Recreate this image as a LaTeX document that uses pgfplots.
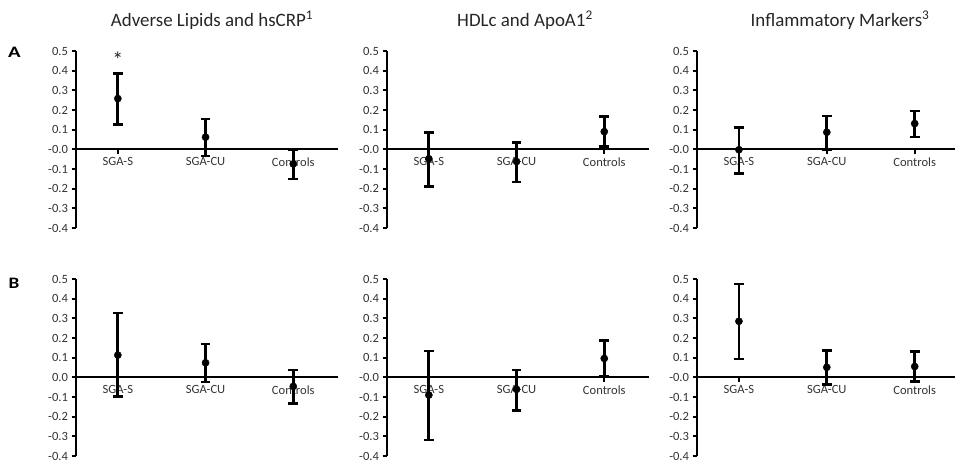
\documentclass[border=0pt]{standalone}
\usepackage{pgfplots}
\pgfplotsset{compat=1.18}
\usepackage{fontspec}
\setmainfont{Carlito}
\pgfplotsset{
  panel/.style={
    scale only axis, width=262bp, height=177bp,
    anchor=north west,
    xmin=0.523, xmax=3.51, ymin=-0.4, ymax=0.5,
    axis y line=left, axis x line=middle,
    axis line style={line width=2.3bp, -},
    every tick/.style={line width=1.8bp, black},
    major tick length=4.5bp,
    tick align=outside,
    xtick={1,2,3}, xticklabels={SGA-S,SGA-CU,Controls},
    ytick={-0.4,-0.3,-0.2,-0.1,0,0.1,0.2,0.3,0.4,0.5},
    yticklabels={-0.4,-0.3,-0.2,-0.1,-0.0,0.1,0.2,0.3,0.4,0.5},
    tick label style={font=\fontsize{12.6}{12.6}\selectfont, text=black!80},
    clip=false,
  },
  ci/.style={
    black, only marks, mark=*, mark size=3.6bp, mark options={fill=black, draw=black},
    error bars/.cd, y dir=both, y explicit,
    error bar style={line width=2.8bp, black},
    error mark options={rotate=90, mark size=4.8bp, line width=2.6bp, black},
  },
}
\begin{document}
\begin{tikzpicture}
\path[use as bounding box] (0bp,0bp) rectangle (955bp,-463bp);
% titles
\node[anchor=base, font=\fontsize{19}{19}\selectfont, text=black!85] at (212bp,-26bp) {Adverse Lipids and hsCRP\textsuperscript{1}};
\node[anchor=base, font=\fontsize{19}{19}\selectfont, text=black!85] at (525bp,-26bp) {HDLc and ApoA1\textsuperscript{2}};
\node[anchor=base, font=\fontsize{19}{19}\selectfont, text=black!85] at (840bp,-26bp) {Inflammatory Markers\textsuperscript{3}};
\node[anchor=base, font=\fontsize{16}{16}\selectfont\bfseries] at (14.5bp,-57bp) {\scalebox{1.3}[1]{A}};
\node[anchor=base, font=\fontsize{16}{16}\selectfont\bfseries] at (14bp,-288bp) {\scalebox{1.2}[1]{B}};

% Row A
\begin{axis}[panel, at={(76bp,-51bp)}]
\addplot[ci] coordinates {
 (1,0.258) += (0,0.127) -= (0,0.132)
 (2,0.062) += (0,0.093) -= (0,0.095)
 (3,-0.074) += (0,0.071) -= (0,0.077)
};
\node[font=\fontsize{22}{22}\selectfont, text=black!85] at (axis cs:1,0.455) {*};
\end{axis}
\begin{axis}[panel, at={(387bp,-51bp)}]
\addplot[ci] coordinates {
 (1,-0.048) += (0,0.135) -= (0,0.141)
 (2,-0.062) += (0,0.097) -= (0,0.105)
 (3,0.090) += (0,0.078) -= (0,0.077)
};
\end{axis}
\begin{axis}[panel, at={(697bp,-51bp)}, width=259bp, xmax=3.47]
\addplot[ci] coordinates {
 (1,-0.002) += (0,0.114) -= (0,0.120)
 (2,0.087) += (0,0.082) -= (0,0.089)
 (3,0.131) += (0,0.063) -= (0,0.068)
};
\end{axis}

% Row B
\begin{axis}[panel, at={(76bp,-279bp)}, yticklabels={-0.4,-0.3,-0.2,-0.1,0.0,0.1,0.2,0.3,0.4,0.5}]
\addplot[ci] coordinates {
 (1,0.113) += (0,0.214) -= (0,0.211)
 (2,0.074) += (0,0.095) -= (0,0.098)
 (3,-0.046) += (0,0.083) -= (0,0.086)
};
\end{axis}
\begin{axis}[panel, at={(387bp,-279bp)}]
\addplot[ci] coordinates {
 (1,-0.090) += (0,0.224) -= (0,0.228)
 (2,-0.061) += (0,0.098) -= (0,0.107)
 (3,0.096) += (0,0.090) -= (0,0.091)
};
\end{axis}
\begin{axis}[panel, at={(697bp,-279bp)}, width=259bp, xmax=3.47]
\addplot[ci] coordinates {
 (1,0.285) += (0,0.189) -= (0,0.191)
 (2,0.051) += (0,0.084) -= (0,0.088)
 (3,0.055) += (0,0.075) -= (0,0.075)
};
\end{axis}
\end{tikzpicture}
\end{document}
